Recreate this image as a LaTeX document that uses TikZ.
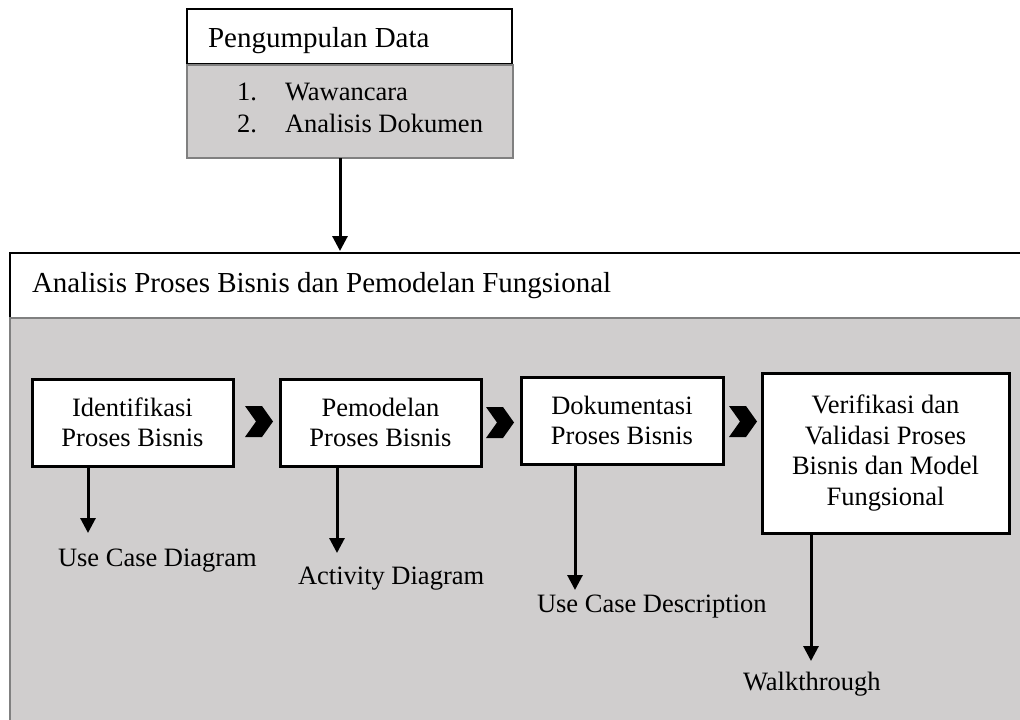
\documentclass[tikz,border=0pt]{standalone}
\usepackage{fontspec}
\setmainfont{Liberation Serif}
\usetikzlibrary{arrows.meta}
\definecolor{panelgray}{RGB}{208,206,206}
\definecolor{edgegray}{RGB}{128,128,128}

\begin{document}
\begin{tikzpicture}[x=1pt,y=-1pt,
  every node/.style={inner sep=0pt, outer sep=0pt},
  bodyfont/.style={font=\fontsize{26.5}{30.5}\selectfont},
  headfont/.style={font=\fontsize{29}{33}\selectfont},
  headbox/.style={draw=black, line width=1.3pt, fill=white},
  graypanel/.style={draw=edgegray, line width=2pt, fill=panelgray},
  stepbox/.style={draw=black, line width=3pt, fill=white, align=center, bodyfont},
  outlabel/.style={anchor=base west, bodyfont},
  flow/.style={draw=black, line width=3pt, -{Triangle[width=15pt,length=15pt]}},
  chevron/.pic={\fill[black] (0,0) -- (17,0) -- (28,15.5) -- (17,31) -- (0,31) -- (11,15.5) -- cycle;}
]
\useasboundingbox (0,0) rectangle (1020,720);
\clip (0,0) rectangle (1020,720);

% data collection block
\node[headbox, minimum width=325pt, minimum height=55pt] (pdhead) at (349.5,36.5) {};
\node[graypanel, minimum width=326pt, minimum height=93pt] (pdlist) at (350,111.5) {};
\node[headfont, anchor=base west] (pdtitle) at (208,47) {Pengumpulan Data};
\node[bodyfont, anchor=base west] (n1) at (237,100) {1.};
\node[bodyfont, anchor=base west] (w1) at (285,100) {Wawancara};
\node[bodyfont, anchor=base west] (n2) at (237,132) {2.};
\node[bodyfont, anchor=base west] (w2) at (285,132) {Analisis Dokumen};

% analysis block (runs off the right and bottom edges)
\node[headbox, line width=1.5pt, minimum width=1020pt, minimum height=65pt, anchor=north west] (anhead) at (10,253) {};
\node[graypanel, minimum width=1020pt, minimum height=420pt, anchor=north west] (anbody) at (10,318) {};
\node[headfont, anchor=base west] (antitle) at (32,292) {Analisis Proses Bisnis dan Pemodelan Fungsional};

\coordinate (topTip) at (340,251);
\draw[flow] (topTip |- pdlist.south) -- (topTip);

% process steps
\node[stepbox, minimum width=201pt, minimum height=87pt] (s1) at (132.5,422.5) {Identifikasi\\Proses Bisnis};
\node[stepbox, minimum width=201pt, minimum height=87pt] (s2) at (380.5,422.5) {Pemodelan\\Proses Bisnis};
\node[stepbox, minimum width=202pt, minimum height=87pt] (s3) at (622,420.5) {Dokumentasi\\Proses Bisnis};
\node[stepbox, minimum width=247pt, minimum height=160pt] (s4) at (885.5,453) {Verifikasi dan\\Validasi Proses\\Bisnis dan Model\\Fungsional};

\pic at (245,406) {chevron};
\pic at (486,407) {chevron};
\pic at (729,406) {chevron};

% outputs of each step
\node[outlabel] (o1) at (58,566) {Use Case Diagram};
\node[outlabel] (o2) at (298,584) {Activity Diagram};
\node[outlabel] (o3) at (537,612) {Use Case Description};
\node[outlabel] (o4) at (743,690) {Walkthrough};

\coordinate (t1) at (88,533);
\coordinate (t2) at (337,553);
\coordinate (t3) at (575,590);
\coordinate (t4) at (811,661);
\draw[flow] (t1 |- s1.south) -- (t1);
\draw[flow] (t2 |- s2.south) -- (t2);
\draw[flow] (t3 |- s3.south) -- (t3);
\draw[flow] (t4 |- s4.south) -- (t4);
\end{tikzpicture}
\end{document}
